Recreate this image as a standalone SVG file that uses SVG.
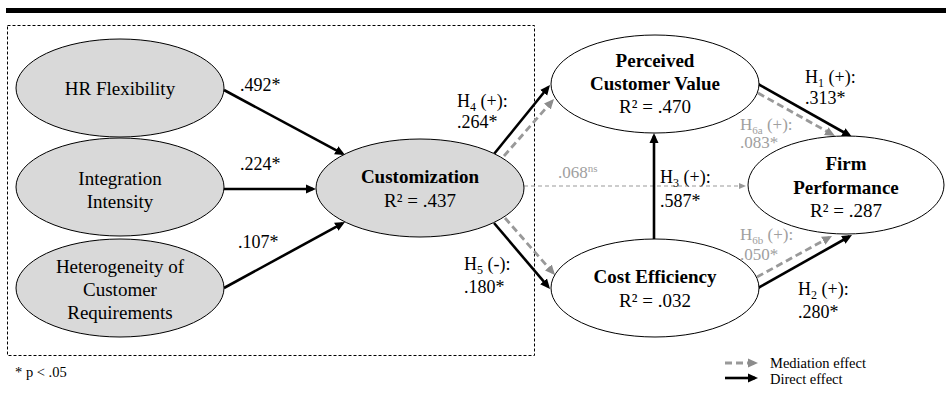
<svg xmlns="http://www.w3.org/2000/svg" width="946" height="407" viewBox="0 0 946 407" font-family="'Liberation Serif', 'DejaVu Serif', serif">
<style>
text{font-family:'Liberation Serif','DejaVu Serif',serif;fill:#000}
.n{font-size:19px;text-anchor:middle}
.b{font-weight:bold}
.l{font-size:18px}
.g{font-size:17px;fill:#a0a0a0}
.lg{font-size:14.5px}
.gray{fill:#d9d9d9;stroke:#000;stroke-width:1}
.white{fill:#fff;stroke:#000;stroke-width:1}
.d{stroke:#000;stroke-width:2.6;fill:none}
.m{stroke:#999;stroke-width:2.8;fill:none;stroke-dasharray:7 4}
.t{stroke:#999;stroke-width:1;fill:none;stroke-dasharray:4 3}
</style>
<defs>
<marker id="ab" markerUnits="userSpaceOnUse" markerWidth="11" markerHeight="10" refX="7" refY="5" orient="auto"><path d="M0,0.5 L10,5 L0,9.5 z" fill="#000"/></marker>
<marker id="ag" markerUnits="userSpaceOnUse" markerWidth="11" markerHeight="10" refX="7" refY="5" orient="auto"><path d="M0,0.5 L10,5 L0,9.5 z" fill="#8c8c8c"/></marker>
<marker id="at" markerUnits="userSpaceOnUse" markerWidth="8" markerHeight="8" refX="5" refY="4" orient="auto"><path d="M0,1 L7,4 L0,7 z" fill="#999"/></marker>
</defs>
<rect x="6" y="8" width="940" height="5" fill="#000"/>
<rect x="7.5" y="25.5" width="527" height="330" fill="none" stroke="#000" stroke-width="1" stroke-dasharray="3 2"/>
<g id="connectors">
<line class="d" x1="224" y1="90" x2="342.4" y2="153.6" marker-end="url(#ab)"/>
<line class="d" x1="224" y1="189" x2="313" y2="189" marker-end="url(#ab)"/>
<line class="d" x1="224" y1="288" x2="342.4" y2="223.4" marker-end="url(#ab)"/>
<line class="t" x1="524" y1="186" x2="744" y2="186" marker-end="url(#at)"/>
<line class="d" x1="494" y1="154" x2="548.1" y2="87.3" marker-end="url(#ab)"/>
<line class="m" x1="504" y1="156" x2="552" y2="101.3" marker-end="url(#ag)"/>
<line class="d" x1="494" y1="223" x2="548.1" y2="286.7" marker-end="url(#ab)"/>
<line class="m" x1="505" y1="218" x2="553" y2="272.7" marker-end="url(#ag)"/>
<line class="d" x1="654" y1="240" x2="654" y2="136" marker-end="url(#ab)"/>
<line class="d" x1="758" y1="84" x2="849.4" y2="135.5" marker-end="url(#ab)"/>
<line class="m" x1="758" y1="93" x2="832.4" y2="134.5" marker-end="url(#ag)"/>
<line class="d" x1="758" y1="288" x2="849.4" y2="236.5" marker-end="url(#ab)"/>
<line class="m" x1="757" y1="277" x2="829.4" y2="237.4" marker-end="url(#ag)"/>
</g>
<g id="labels">
<text class="l" x="240" y="91">.492*</text>
<text class="l" x="240" y="170">.224*</text>
<text class="l" x="238" y="248">.107*</text>
<text class="l" x="457" y="107">H<tspan font-size="12" dy="4">4</tspan><tspan dy="-4"> (+):</tspan></text>
<text class="l" x="457" y="128">.264*</text>
<text class="l" x="464" y="270">H<tspan font-size="12" dy="4">5</tspan><tspan dy="-4"> (-):</tspan></text>
<text class="l" x="464" y="293">.180*</text>
<text class="g" x="558" y="178">.068<tspan font-size="11" dy="-6">ns</tspan></text>
<text class="l" x="660" y="183">H<tspan font-size="12" dy="4">3</tspan><tspan dy="-4"> (+):</tspan></text>
<text class="l" x="660" y="207">.587*</text>
<text class="l" x="805" y="83">H<tspan font-size="12" dy="4">1</tspan><tspan dy="-4"> (+):</tspan></text>
<text class="l" x="805" y="104">.313*</text>
<text class="g" x="740" y="130">H<tspan font-size="11" dy="4">6a</tspan><tspan dy="-4"> (+):</tspan></text>
<text class="g" x="740" y="148">.083*</text>
<text class="g" x="740" y="240">H<tspan font-size="11" dy="4">6b</tspan><tspan dy="-4"> (+):</tspan></text>
<text class="g" x="740" y="260">.050*</text>
<text class="l" x="798" y="295">H<tspan font-size="12" dy="4">2</tspan><tspan dy="-4"> (+):</tspan></text>
<text class="l" x="798" y="318">.280*</text>
</g>
<g id="hr">
<ellipse class="gray" cx="120" cy="88" rx="104" ry="49"/>
<text class="n" x="120" y="95">HR Flexibility</text>
</g>
<g id="integration">
<ellipse class="gray" cx="120" cy="187" rx="104" ry="49"/>
<text class="n" x="120" y="185">Integration</text>
<text class="n" x="120" y="208">Intensity</text>
</g>
<g id="heterogeneity">
<ellipse class="gray" cx="120" cy="288" rx="104" ry="49"/>
<text class="n" x="120" y="273">Heterogeneity of</text>
<text class="n" x="120" y="296">Customer</text>
<text class="n" x="120" y="319">Requirements</text>
</g>
<g id="customization">
<ellipse class="gray" cx="420" cy="188" rx="104" ry="49"/>
<text class="n b" x="420" y="183">Customization</text>
<text class="n" x="420" y="207">R² = .437</text>
</g>
<g id="pcv">
<ellipse class="white" cx="655" cy="84" rx="104" ry="49"/>
<text class="n b" x="655" y="67">Perceived</text>
<text class="n b" x="655" y="90">Customer Value</text>
<text class="n" x="655" y="113">R² = .470</text>
</g>
<g id="cost">
<ellipse class="white" cx="655" cy="288" rx="104" ry="49"/>
<text class="n b" x="655" y="283">Cost Efficiency</text>
<text class="n" x="655" y="307">R² = .032</text>
</g>
<g id="firm">
<ellipse class="white" cx="846" cy="185" rx="98" ry="49"/>
<text class="n b" x="846" y="170">Firm</text>
<text class="n b" x="846" y="194">Performance</text>
<text class="n" x="846" y="217">R² = .287</text>
</g>
<g id="legend">
<line class="m" x1="725" y1="363" x2="755" y2="363" stroke-dasharray="6 3" stroke-width="2.5" marker-end="url(#ag)"/>
<line class="d" x1="725" y1="378" x2="755" y2="378" marker-end="url(#ab)"/>
<text class="lg" x="770" y="368">Mediation effect</text>
<text class="lg" x="770" y="384">Direct effect</text>
<text class="lg" x="15" y="377">* p &lt; .05</text>
</g>
</svg>
